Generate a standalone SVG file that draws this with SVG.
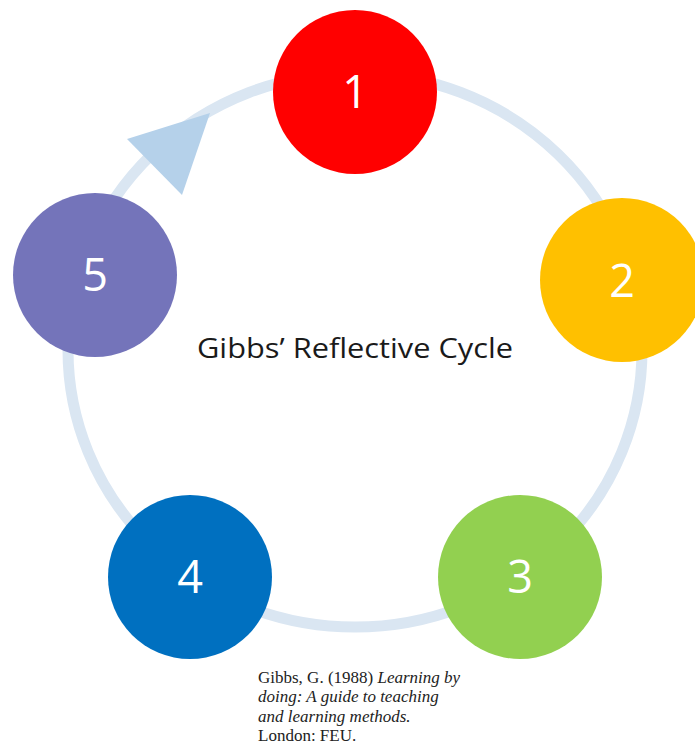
<svg xmlns="http://www.w3.org/2000/svg" width="695" height="747" viewBox="0 0 695 747">
<style>
.num{font-family:"Open Sans","Liberation Sans",sans-serif;font-size:45px;fill:#ffffff;text-anchor:middle}
.title{font-family:"Open Sans","Liberation Sans",sans-serif;font-size:27px;fill:#1a1a1a;text-anchor:middle}
.cite{font-family:"Liberation Serif","Times New Roman",serif;font-size:17px;fill:#222222}
</style>
<rect width="695" height="747" fill="#ffffff"/>
<g id="connectors">
<ellipse cx="355" cy="350" rx="287" ry="277" fill="none" stroke="#dae6f2" stroke-width="11"/>
<polygon points="127,139 210,113 182,195" fill="#b5d1ea"/>
</g>
<g id="node1"><circle cx="355" cy="92" r="82" fill="#ff0000"/><text class="num" x="355" y="108">1</text></g>
<g id="node2"><circle cx="622" cy="280" r="82" fill="#ffc000"/><text class="num" x="622" y="297">2</text></g>
<g id="node3"><circle cx="520" cy="577" r="82" fill="#92d050"/><text class="num" x="520" y="593">3</text></g>
<g id="node4"><circle cx="190" cy="577" r="82" fill="#0070c0"/><text class="num" x="190" y="593">4</text></g>
<g id="node5"><circle cx="95" cy="275" r="82" fill="#7474ba"/><text class="num" x="95" y="291">5</text></g>
<g id="title"><text class="title" x="355" y="358" textLength="316" lengthAdjust="spacingAndGlyphs">Gibbs’ Reflective Cycle</text></g>
<g id="citation">
<text class="cite" x="258" y="683">Gibbs, G. (1988) <tspan font-style="italic">Learning by</tspan></text>
<text class="cite" x="258" y="702" font-style="italic">doing: A guide to teaching</text>
<text class="cite" x="258" y="722" font-style="italic">and learning methods.</text>
<text class="cite" x="258" y="741">London: FEU.</text>
</g>
</svg>
